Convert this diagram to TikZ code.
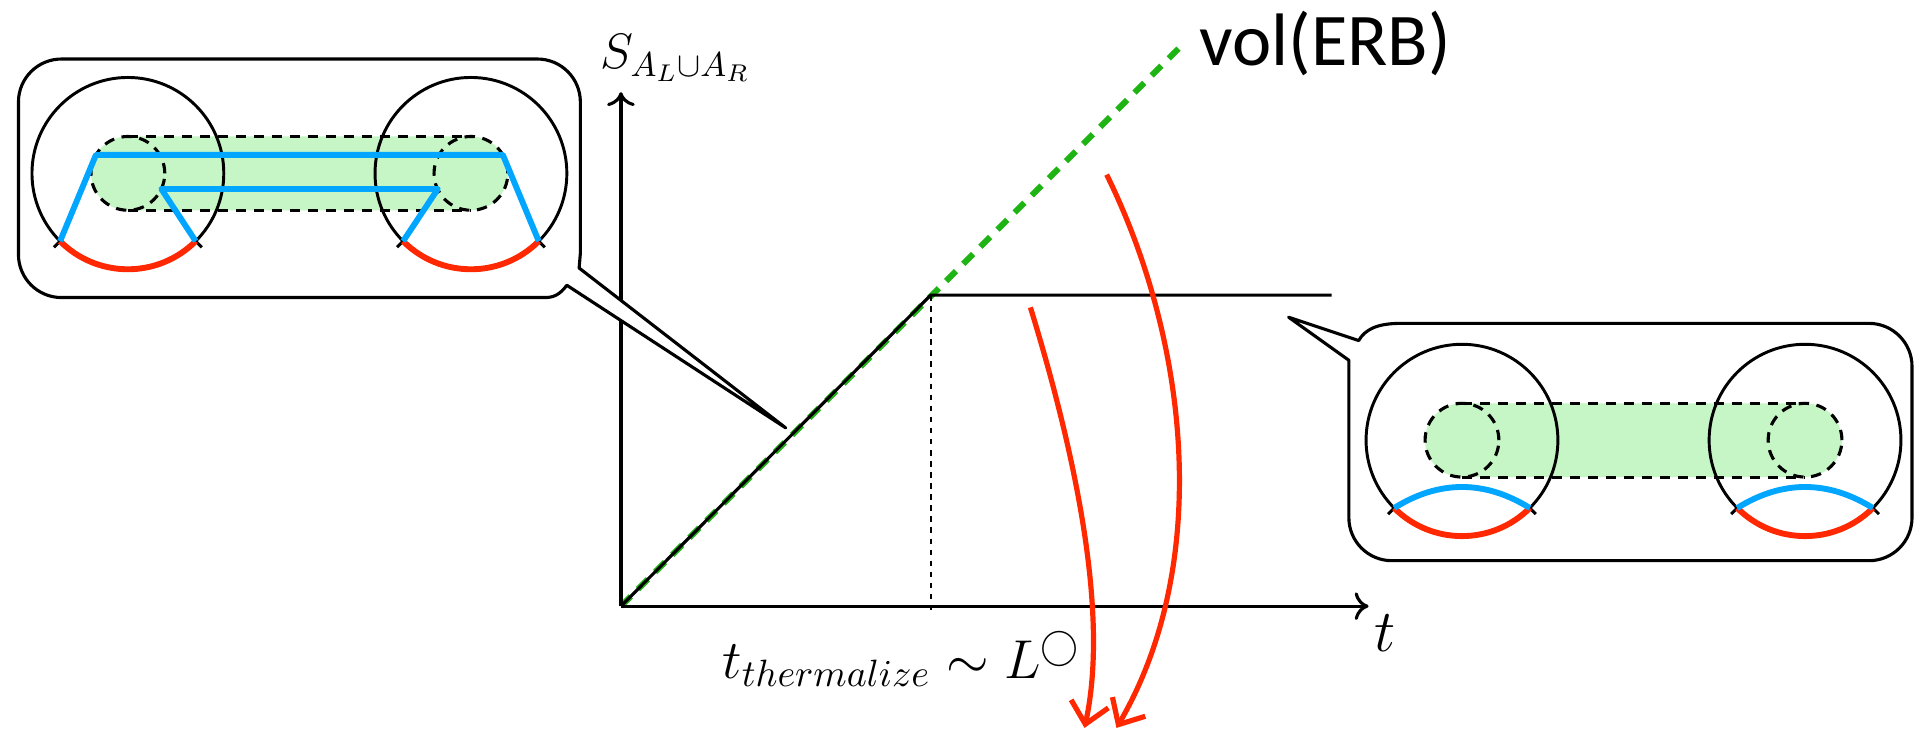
\documentclass[tikz,border=0pt]{standalone}
\usepackage{fontspec}
\newfontfamily\erbfont{Carlito}
\usetikzlibrary{arrows.meta}
\definecolor{erbgreen}{RGB}{30,180,20}
\definecolor{tubefill}{RGB}{198,246,198}
\definecolor{rtblue}{RGB}{0,166,255}
\definecolor{rtred}{RGB}{255,40,0}
\tikzset{
  bubble/.style={draw, line width=0.9pt, line join=round},
  ring/.style={line width=0.85pt},
  tube/.style={dash pattern=on 3pt off 2.2pt, line width=0.9pt},
  surf/.style={rtblue, line width=1.7pt, line join=round},
  region/.style={rtred, line width=1.7pt},
  flow/.style={rtred, line width=1.5pt, -{Straight Barb[length=6pt,width=11pt]}},
  axisline/.style={line width=0.9pt, -{To[length=4pt,width=8pt]}},
}
\begin{document}
\begin{tikzpicture}[x=0.0125cm, y=0.0125cm]
    \useasboundingbox (0,0) rectangle (1568,600);
    % Axes and entropy curve
        \coordinate (O) at (505,107);
        \coordinate (Ytop) at (505,525);
        \coordinate (Xend) at (1113,107);
        \coordinate (Tth) at (757,360);
        \coordinate (Flat) at (1083,360);
        \coordinate (Vend) at (960,562);
        \coordinate (Tfoot) at (757,100);
        \draw[erbgreen, line width=1.7pt, dash pattern=on 4pt off 3pt] (O) -- (Vend);
        \draw[axisline] (O) -- (Ytop);
        \draw[axisline] (O) -- (Xend);
        \draw[line width=0.9pt] (O) -- (Tth) -- (Flat);
        \draw[line width=0.7pt, dash pattern=on 1.6pt off 1.6pt] (Tth) -- (Tfoot);
        \node[font=\Large, anchor=base west, inner sep=0pt] (Slab) at (488,544) {$S_{A_L\cup A_R}$};
        \node[font=\LARGE, anchor=base west, inner sep=0pt] (tlab) at (1117,70) {$t$};
        \node[font=\Large, scale=1.1, anchor=base west, inner sep=0pt] (thlab) at (587,48) {$t_{thermalize}\sim L^{\bigcirc}$};
        \node[font={\erbfont\fontsize{21.5}{26}\selectfont}, anchor=base west, inner sep=0pt] (erb) at (975,547) {vol(ERB)};
    % Red arrows
        \coordinate (a1s) at (838,350);
        \coordinate (a1e) at (882,8);
        \coordinate (a2s) at (900,458);
        \coordinate (a2e) at (908,8);
        \draw[flow] (a1s) .. controls (875,230) and (902,100) .. (a1e);
        \draw[flow] (a2s) .. controls (968,320) and (985,140) .. (a2e);
    % Speech bubbles
        \draw[bubble, fill=white] (50,552) -- (437,552) arc[start angle=90, end angle=0, radius=35]
            -- (472,394) .. controls (472,388) .. (471,382) -- (639,252) -- (461,368)
            .. controls (455,360) and (450,358) .. (443,358) -- (50,358)
            arc[start angle=270, end angle=180, radius=35] -- (15,517)
            arc[start angle=180, end angle=90, radius=35] -- cycle;
        \draw[bubble, fill=white] (1139,337) -- (1520,337) arc[start angle=90, end angle=0, radius=35]
            -- (1555,179) arc[start angle=0, end angle=-90, radius=35] -- (1132,144)
            arc[start angle=270, end angle=180, radius=35] -- (1097,307) -- (1048,342) -- (1105,323)
            .. controls (1110,332) and (1120,337) .. cycle;
    % Wormhole tubes
        \foreach \lx/\rx/\cy in {104/383/459, 1189/1468/242} {
            \fill[tubefill] (\lx,\cy+30) -- (\rx,\cy+30) arc[start angle=90, end angle=-90, radius=30]
                -- (\lx,\cy-30) arc[start angle=270, end angle=90, radius=30] -- cycle;
        }
    % Regions, horizons and red intervals
        \foreach \cx/\cy in {104/459, 383/459, 1189/242, 1468/242} {
            \draw[ring] (\cx,\cy) circle (78);
            \draw[ring] (\cx,\cy) ++(-135:75) -- ++(-135:10);
            \draw[ring] (\cx,\cy) ++(-45:75) -- ++(-45:10);
        }
        \foreach \lx/\rx/\cy in {104/383/459, 1189/1468/242} {
            \draw[tube] (\lx,\cy) circle (30) (\rx,\cy) circle (30);
            \draw[tube] (\lx,\cy+30) -- (\rx,\cy+30) (\lx,\cy-30) -- (\rx,\cy-30);
        }
        \foreach \cx/\cy in {104/459, 383/459, 1189/242, 1468/242} {
            \draw[region] (\cx,\cy) ++(-135:78) arc[start angle=-135, end angle=-45, radius=78];
        }
    % Blue surfaces
        \draw[surf] (48.85,403.85) -- (78,474) -- (409,474) -- (438.15,403.85);
        \draw[surf] (159.15,403.85) -- (131.2,446.3) -- (356.1,446.3) -- (327.85,403.85);
        \foreach \cx in {1189,1468} {
            \draw[surf] (\cx,242) ++(-135:78) to[out=32, in=148] ++(110.3,0);
        }
\end{tikzpicture}
\end{document}
